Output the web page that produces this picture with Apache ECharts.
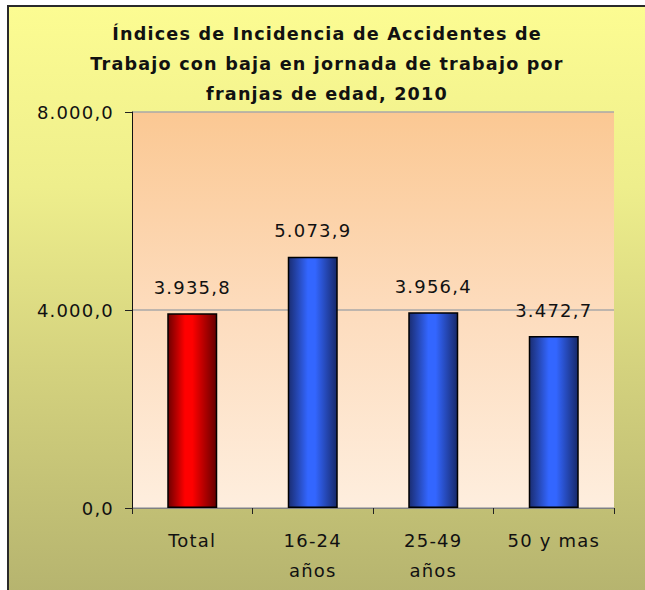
<!DOCTYPE html>
<html>
<head>
<meta charset="utf-8">
<script src="https://cdn.jsdelivr.net/npm/echarts@6/dist/echarts.min.js"></script>
<style>
  html, body { margin: 0; padding: 0; background: #ffffff; }
  #fondo {
    position: absolute; left: 7px; top: 5px; width: 660px; height: 600px;
    border-left: 2px solid #2a2a2a; border-top: 2px solid #2a2a2a;
    background: linear-gradient(to bottom, #fcfc92 0%, #eeee8c 30%, #d4d27e 60%, #b4b26e 100%);
  }
  #chart { position: absolute; left: 0; top: 0; width: 645px; height: 590px; }
  #chart text { letter-spacing: 1.2px; }
</style>
</head>
<body>
<div id="fondo"></div>
<div id="chart"></div>
<script>
// datos del gráfico
const titulo = ['Índices de Incidencia de Accidentes de', 'Trabajo con baja en jornada de trabajo por', 'franjas de edad, 2010'];
const categorias = ['Total', '16-24\naños', '25-49\naños', '50 y mas'];
const valores = [3935.8, 5073.9, 3956.4, 3472.7];

// formato español: 8.000,0
function formatoNum(v) {
    const partes = Number(v).toFixed(1).split('.');
    return partes[0].replace(/\B(?=(\d{3})+(?!\d))/g, '.') + ',' + partes[1];
}

const fuente = '"DejaVu Sans", Verdana, sans-serif';

const degradadoRojo = {
    type: 'linear', x: 0, y: 0, x2: 1, y2: 0,
    colorStops: [
        { offset: 0, color: '#6e0000' },
        { offset: 0.35, color: '#ff0000' },
        { offset: 0.5, color: '#ff0000' },
        { offset: 1, color: '#640000' }
    ]
};
const degradadoAzul = {
    type: 'linear', x: 0, y: 0, x2: 1, y2: 0,
    colorStops: [
        { offset: 0, color: '#1a2d72' },
        { offset: 0.4, color: '#3366ff' },
        { offset: 0.55, color: '#3366ff' },
        { offset: 1, color: '#17296a' }
    ]
};

const chart = echarts.init(document.getElementById('chart'), null, { renderer: 'svg' });

chart.setOption({
    backgroundColor: 'transparent',
    animation: false,
    title: {
        text: titulo.join('\n'),
        left: 327,
        top: 19,
        padding: 0,
        textAlign: 'center',
        textStyle: {
            fontFamily: fuente,
            fontSize: 17.6,
            fontWeight: 'bold',
            color: '#111111',
            lineHeight: 30
        }
    },
    grid: {
        left: 132,
        right: 31,
        top: 112,
        bottom: 82,
        show: true,
        borderWidth: 0,
        backgroundColor: {
            type: 'linear', x: 0, y: 0, x2: 0, y2: 1,
            colorStops: [
                { offset: 0, color: '#fbc893' },
                { offset: 0.5, color: '#fddcbd' },
                { offset: 1, color: '#feeede' }
            ]
        }
    },
    xAxis: {
        type: 'category',
        data: categorias,
        axisLine: { lineStyle: { color: '#808080', width: 1 } },
        axisTick: { show: true, length: 6, lineStyle: { color: '#222222' } },
        axisLabel: {
            margin: 17,
            fontFamily: fuente,
            fontSize: 18,
            color: '#111111',
            lineHeight: 30,
            interval: 0
        }
    },
    yAxis: {
        type: 'value',
        min: 0,
        max: 8000,
        interval: 4000,
        axisLine: { show: true, lineStyle: { color: '#111111', width: 1 } },
        axisTick: { show: true, length: 7, lineStyle: { color: '#222222' } },
        splitLine: { show: true, lineStyle: { color: '#a8a8a8', width: 1.5 } },
        axisLabel: {
            margin: 18,
            fontFamily: fuente,
            fontSize: 18,
            color: '#111111',
            formatter: formatoNum
        }
    },
    series: [{
        type: 'bar',
        data: valores,
        barWidth: 50,
        itemStyle: {
            color: function (p) { return p.dataIndex === 0 ? degradadoRojo : degradadoAzul; },
            borderColor: '#000000',
            borderWidth: 1.5
        },
        label: {
            show: true,
            position: 'top',
            distance: 17,
            fontFamily: fuente,
            fontSize: 18,
            color: '#111111',
            formatter: function (p) { return formatoNum(p.value); }
        }
    }]
});
</script>
</body>
</html>
